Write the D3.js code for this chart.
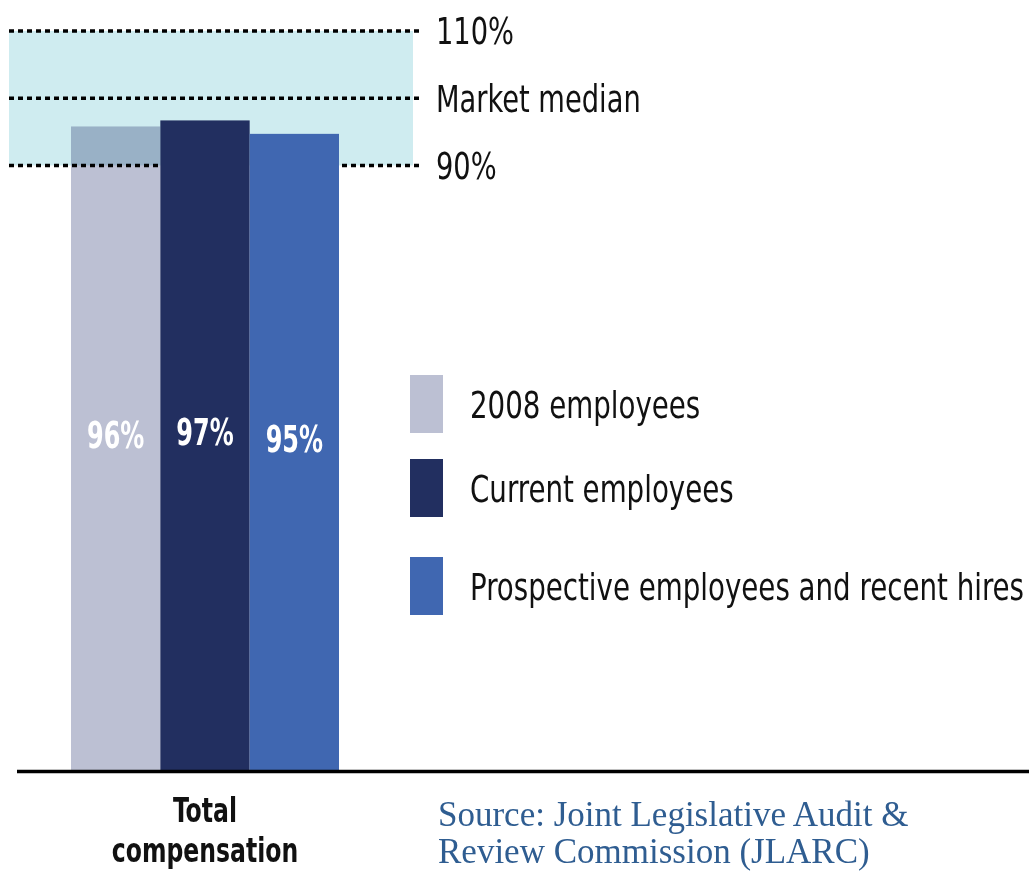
<!DOCTYPE html>
<html lang="en">
<head>
    <meta charset="UTF-8">
    <title>Total compensation vs. market median</title>
    <script src="https://d3js.org/d3.v7.min.js"></script>
    <style>
        html, body {
            margin: 0;
            padding: 0;
            background: #fff;
        }
        svg text {
            font-family: "DejaVu Sans Condensed", "DejaVu Sans", sans-serif;
            font-stretch: condensed;
            fill: #111;
        }
        .source text {
            font-family: "Liberation Serif", "Times New Roman", serif;
            font-stretch: normal;
            fill: #2f5d91;
        }
    </style>
</head>
<body>
    <div id="chart"></div>
    <script>
        // Data
        const categories = ["Total compensation"];
        const series = ["2008 employees", "Current employees", "Prospective employees and recent hires"];
        const values = [0.958, 0.967, 0.947];
        const colors = ["#bcc0d3", "#222f60", "#4067b1"];

        // market reference lines
        const refValues = [1.1, 1.0, 0.9];
        const refLabels = ["110%", "Market median", "90%"];
        const bandRange = [0.9, 1.1];

        const sourceLines = ["Source: Joint Legislative Audit &", "Review Commission (JLARC)"];

        const W = 1036, H = 876;

        // the original uses a narrow face; squeeze DejaVu Condensed horizontally
        const squeeze = (x, y, sx) => "translate(" + x + "," + y + ") scale(" + sx + ",1)";

        const svg = d3.select("#chart")
            .append("svg")
            .attr("width", W)
            .attr("height", H);

        // scales
        const y = d3.scaleLinear()
            .domain([0, 1.1])
            .range([770.5, 31]);

        const x0 = d3.scaleBand()
            .domain(categories)
            .range([71, 339])
            .padding(0);

        const x1 = d3.scaleBand()
            .domain(series)
            .range([0, x0.bandwidth()])
            .padding(0);

        const color = d3.scaleOrdinal().domain(series).range(colors);

        const rows = series.map((s, i) => ({ cat: categories[0], series: s, value: values[i] }));

        // shaded band between 90% and 110%
        svg.append("rect")
            .attr("x", 9)
            .attr("width", 404)
            .attr("y", y(bandRange[1]))
            .attr("height", y(bandRange[0]) - y(bandRange[1]))
            .attr("fill", "#cfecf0");

        // dotted reference lines
        const ref = svg.append("g").attr("class", "ref");
        ref.selectAll("line")
            .data(refValues)
            .enter()
            .append("line")
            .attr("x1", 9)
            .attr("x2", 421)
            .attr("y1", d => y(d))
            .attr("y2", d => y(d))
            .attr("stroke", "#000")
            .attr("stroke-width", 3.5)
            .attr("stroke-dasharray", "5,4");

        ref.selectAll("text")
            .data(refValues)
            .enter()
            .append("text")
            .attr("transform", d => squeeze(436, y(d), 0.82))
            .attr("dy", "0.36em")
            .style("font-size", "37px")
            .text((d, i) => refLabels[i]);

        // bars (first one blends with the band like the original)
        const bars = svg.append("g").attr("class", "bars");
        bars.selectAll("rect")
            .data(rows)
            .enter()
            .append("rect")
            .attr("x", d => x0(d.cat) + x1(d.series))
            .attr("width", x1.bandwidth())
            .attr("y", d => y(d.value))
            .attr("height", d => y(0) - y(d.value))
            .attr("fill", d => color(d.series))
            .style("mix-blend-mode", (d, i) => i === 0 ? "multiply" : null);

        bars.selectAll("text")
            .data(rows)
            .enter()
            .append("text")
            .attr("transform", d => squeeze(x0(d.cat) + x1(d.series) + x1.bandwidth() / 2,
                                            (y(d.value) + y(0)) / 2, 0.72))
            .attr("text-anchor", "middle")
            .style("font-size", "37px")
            .style("font-weight", "bold")
            .style("fill", "#fff")
            .text(d => d3.format(".0%")(d.value));

        // baseline
        svg.append("line")
            .attr("x1", 17)
            .attr("x2", 1029)
            .attr("y1", y(0) + 1)
            .attr("y2", y(0) + 1)
            .attr("stroke", "#000")
            .attr("stroke-width", 3.5);

        // category label, two lines
        const cx = x0(categories[0]) + x0.bandwidth() / 2;
        svg.append("g")
            .selectAll("text")
            .data(categories[0].split(" "))
            .enter()
            .append("text")
            .attr("transform", (d, i) => squeeze(cx, 822 + i * 40, 0.77))
            .attr("text-anchor", "middle")
            .style("font-size", "34px")
            .style("font-weight", "bold")
            .text(d => d);

        // legend
        const legendRowY = [375, 459, 557];
        const legend = svg.append("g").attr("class", "legend");
        const item = legend.selectAll("g")
            .data(series)
            .enter()
            .append("g")
            .attr("transform", (d, i) => "translate(410," + legendRowY[i] + ")");
        item.append("rect")
            .attr("width", 33)
            .attr("height", 58)
            .attr("fill", d => color(d));
        item.append("text")
            .attr("transform", squeeze(60, 29, 0.81))
            .attr("dy", "0.36em")
            .style("font-size", "38px")
            .text(d => d);

        // source note
        svg.append("g")
            .attr("class", "source")
            .selectAll("text")
            .data(sourceLines)
            .enter()
            .append("text")
            .attr("x", 438)
            .attr("y", (d, i) => 826 + i * 37)
            .style("font-size", "35px")
            .text(d => d);
    </script>
</body>
</html>
